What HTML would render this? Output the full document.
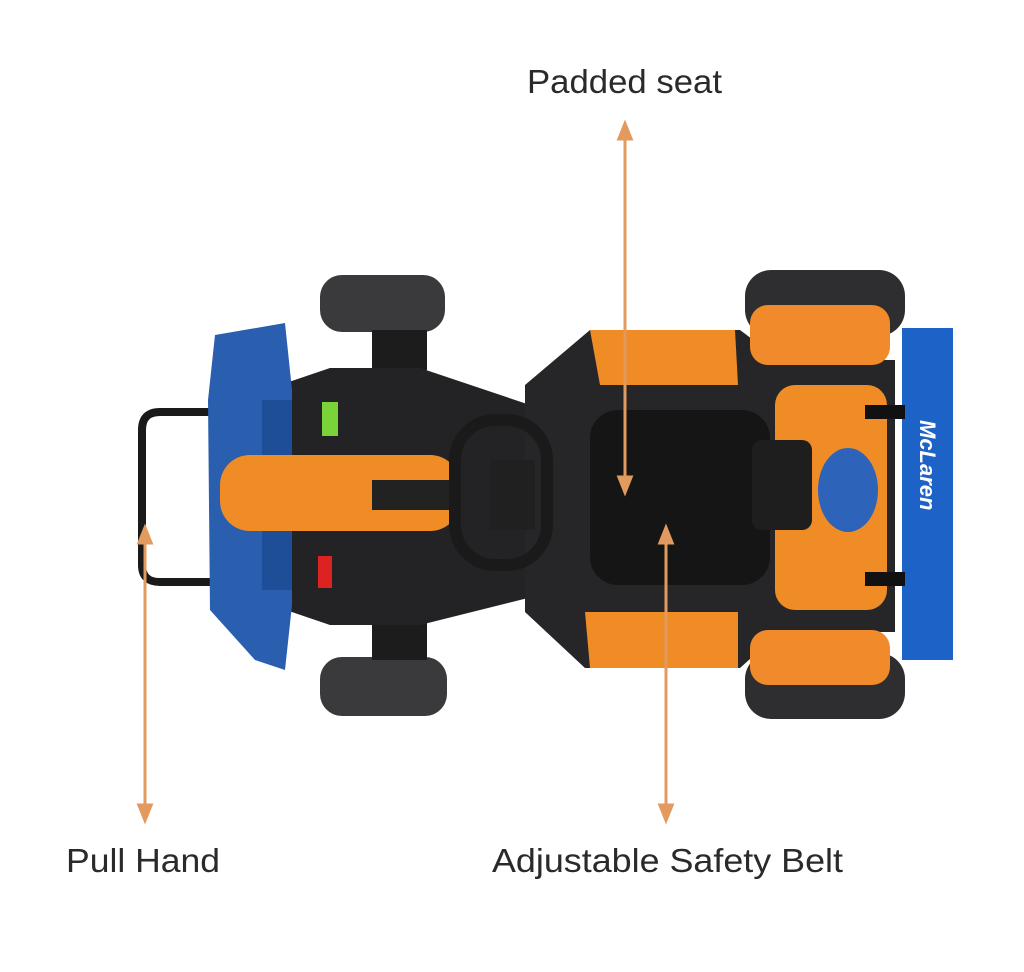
<!DOCTYPE html>
<html><head><meta charset="utf-8"><style>
html,body{margin:0;padding:0;background:#fff;width:1024px;height:972px;overflow:hidden}
svg{display:block}
text{font-family:"Liberation Sans","DejaVu Sans",sans-serif;fill:#2a2a2a}
</style></head><body>
<svg width="1024" height="972" viewBox="0 0 1024 972" xmlns="http://www.w3.org/2000/svg">
<defs>
<marker id="ah" viewBox="0 0 10 10" refX="5" refY="5" markerWidth="7" markerHeight="7" orient="auto-start-reverse">
<path d="M0,1 L10,5 L0,9 z" fill="#e39a5f"/></marker>
</defs>
<rect x="320" y="275" width="125" height="57" rx="22" fill="#3a3a3c"/>
<rect x="320" y="657" width="127" height="59" rx="22" fill="#3a3a3c"/>
<rect x="745" y="270" width="160" height="66" rx="26" fill="#2e2e30"/>
<rect x="745" y="653" width="160" height="66" rx="26" fill="#2e2e30"/>
<rect x="372" y="330" width="55" height="40" fill="#1c1c1c"/>
<rect x="372" y="618" width="55" height="42" fill="#1c1c1c"/>
<path d="M210,412 L160,412 Q142,412 142,430 L142,565 Q142,582 160,582 L210,582" fill="none" stroke="#1a1a1a" stroke-width="8"/>
<path d="M280,385 L330,368 L420,368 L545,410 L560,590 L420,625 L330,625 L280,608 z" fill="#232325"/>
<path d="M215,335 L285,323 L292,390 L292,605 L285,670 L255,660 L210,610 L208,400 z" fill="#2a5fb0"/>
<rect x="262" y="400" width="30" height="190" fill="#1f4e98"/>
<rect x="220" y="455" width="240" height="76" rx="30" fill="#ef8c26"/>
<rect x="372" y="480" width="85" height="30" fill="#222"/>
<rect x="322" y="402" width="16" height="34" fill="#7bd33a"/>
<rect x="318" y="556" width="14" height="32" fill="#d22"/>
<path d="M525,385 L590,330 L740,330 L780,360 L895,360 L895,632 L780,632 L740,668 L585,668 L525,612 z" fill="#262628"/>
<path d="M590,330 L735,330 L738,385 L600,385 z" fill="#ef8c26"/>
<path d="M585,612 L738,612 L738,668 L590,668 z" fill="#ef8c26"/>
<rect x="590" y="410" width="180" height="175" rx="28" fill="#151515"/>
<rect x="775" y="385" width="112" height="225" rx="20" fill="#ef8c26"/>
<rect x="750" y="305" width="140" height="60" rx="18" fill="#f08a2a"/>
<rect x="750" y="630" width="140" height="55" rx="18" fill="#f08a2a"/>
<rect x="752" y="440" width="60" height="90" rx="10" fill="#1e1e1e"/>
<ellipse cx="848" cy="490" rx="30" ry="42" fill="#2d63b8"/>
<rect x="455" y="420" width="92" height="145" rx="40" fill="none" stroke="#1a1a1a" stroke-width="12"/>
<rect x="490" y="460" width="45" height="70" fill="#202020"/>
<rect x="902" y="328" width="51" height="332" fill="#1d62c7"/>
<rect x="865" y="405" width="40" height="14" fill="#111"/>
<rect x="865" y="572" width="40" height="14" fill="#111"/>
<text x="0" y="0" transform="translate(920,420) rotate(90)" style="fill:#fff;font-size:22px;font-style:italic;font-weight:bold">McLaren</text>
<line x1="625" y1="130" x2="625" y2="486" stroke="#e39a5f" stroke-width="3" marker-start="url(#ah)" marker-end="url(#ah)"/>
<line x1="145" y1="534" x2="145" y2="814" stroke="#e39a5f" stroke-width="3" marker-start="url(#ah)" marker-end="url(#ah)"/>
<line x1="666" y1="534" x2="666" y2="814" stroke="#e39a5f" stroke-width="3" marker-start="url(#ah)" marker-end="url(#ah)"/>
<text x="527" y="93" font-size="33" textLength="195" lengthAdjust="spacingAndGlyphs">Padded seat</text>
<text x="66" y="872" font-size="33" textLength="154" lengthAdjust="spacingAndGlyphs">Pull Hand</text>
<text x="492" y="872" font-size="33" textLength="351" lengthAdjust="spacingAndGlyphs">Adjustable Safety Belt</text>
</svg>
</body></html>
